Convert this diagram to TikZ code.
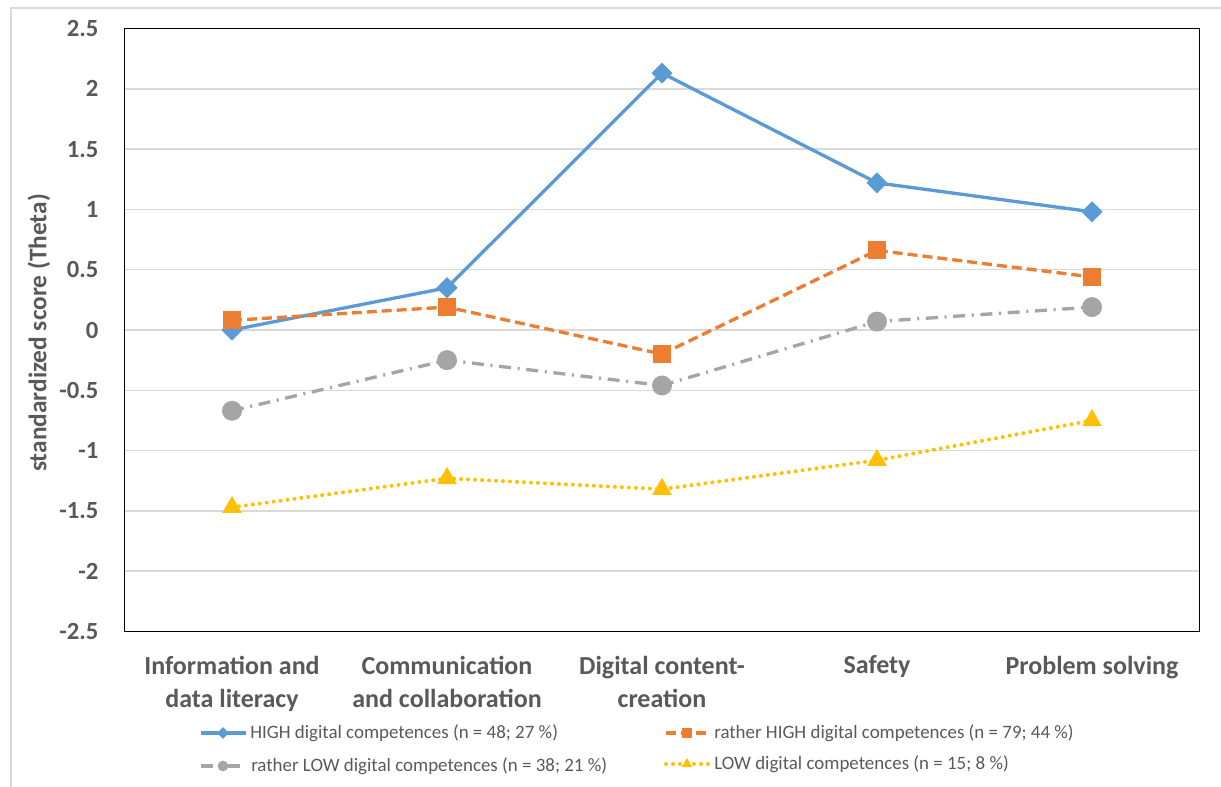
\documentclass[tikz,border=0pt]{standalone}
\usepackage{fontspec}
\setmainfont{Carlito}
\usetikzlibrary{shapes.geometric}

\definecolor{highblue}{HTML}{5B9BD5}
\definecolor{rhighorange}{HTML}{ED7D31}
\definecolor{rlowgray}{HTML}{A5A5A5}
\definecolor{lowyellow}{HTML}{FFC000}
\definecolor{labelgray}{HTML}{595959}
\definecolor{gridgray}{HTML}{D9D9D9}

\tikzset{
  ticklabel/.style = {anchor=east, inner sep=0pt, text=labelgray, font=\bfseries\fontsize{18.5}{20}\selectfont},
  catlabel/.style = {anchor=north, align=center, inner sep=0pt, text=labelgray, font=\bfseries\fontsize{19.5}{24.75}\selectfont},
  axistitle/.style = {rotate=90, inner sep=0pt, text=labelgray, font=\bfseries\fontsize{19}{21}\selectfont},
  legendlabel/.style = {anchor=west, inner sep=0pt, text=labelgray, font=\fontsize{14.2}{16}\selectfont},
  gridline/.style = {draw=gridgray, line width=1.1pt},
  highline/.style = {draw=highblue, line width=2.5pt, line join=round},
  rhighline/.style = {draw=rhighorange, line width=2.5pt, dash pattern=on 7.5pt off 3.75pt},
  rlowline/.style = {draw=rlowgray, line width=2.5pt, dash pattern=on 9pt off 5pt on 1.5pt off 5pt},
  lowline/.style = {draw=lowyellow, line width=3pt, line cap=round, dash pattern=on 0pt off 5.25pt},
  highmark/.style = {diamond, fill=highblue, inner sep=0pt, minimum size=16pt},
  rhighmark/.style = {rectangle, fill=rhighorange, inner sep=0pt, minimum size=13.5pt},
  rlowmark/.style = {circle, fill=rlowgray, inner sep=0pt, minimum size=15pt},
  lowmark/.style = {regular polygon, regular polygon sides=3, fill=lowyellow, inner sep=0pt, minimum size=17pt}
}

\begin{document}
\begin{tikzpicture}[x=0.75pt, y=-0.75pt]
      \useasboundingbox (0,0) rectangle (1221,787);
      % outer frame
      \draw[gridgray, line width=1.1pt] (11,787) -- (11,8) -- (1221,8);

      \begin{scope}[shift={(232,330)}, x=161.25pt, y=90.45pt]
      % grid
      \draw[gridline] (-0.5,2.0) -- (4.5,2.0);
      \draw[gridline] (-0.5,1.5) -- (4.5,1.5);
      \draw[gridline] (-0.5,1.0) -- (4.5,1.0);
      \draw[gridline] (-0.5,0.5) -- (4.5,0.5);
      \draw[gridline] (-0.5,0.0) -- (4.5,0.0);
      \draw[gridline] (-0.5,-0.5) -- (4.5,-0.5);
      \draw[gridline] (-0.5,-1.0) -- (4.5,-1.0);
      \draw[gridline] (-0.5,-1.5) -- (4.5,-1.5);
      \draw[gridline] (-0.5,-2.0) -- (4.5,-2.0);
      \draw[black, line width=1.2pt] (-0.5,-2.5) rectangle (4.5,2.5);

      % tick labels
      \node[ticklabel] (t25) at (-0.62,2.5) {2.5};
      \node[ticklabel] (t20) at (-0.62,2.0) {2};
      \node[ticklabel] (t15) at (-0.62,1.5) {1.5};
      \node[ticklabel] (t10) at (-0.62,1.0) {1};
      \node[ticklabel] (t05) at (-0.62,0.5) {0.5};
      \node[ticklabel] (t00) at (-0.62,0.0) {0};
      \node[ticklabel] (tm05) at (-0.62,-0.5) {-0.5};
      \node[ticklabel] (tm10) at (-0.62,-1.0) {-1};
      \node[ticklabel] (tm15) at (-0.62,-1.5) {-1.5};
      \node[ticklabel] (tm20) at (-0.62,-2.0) {-2};
      \node[ticklabel] (tm25) at (-0.62,-2.5) {-2.5};

      % category labels
      \node[catlabel] (info) at (0,-2.70) {Information and\\data literacy};
      \node[catlabel] (comm) at (1,-2.70) {Communication\\and collaboration};
      \node[catlabel] (dcc) at (2,-2.70) {Digital content-\\creation};
      \node[catlabel] (safe) at (3,-2.70) {Safety};
      \node[catlabel] (prob) at (4,-2.70) {Problem solving};

      % HIGH
      \coordinate (h1) at (0,0.00);
      \coordinate (h2) at (1,0.35);
      \coordinate (h3) at (2,2.13);
      \coordinate (h4) at (3,1.22);
      \coordinate (h5) at (4,0.98);
      \draw[highline] (h1) -- (h2) -- (h3) -- (h4) -- (h5);
      \node[highmark] (hm1) at (h1) {};
      \node[highmark] (hm2) at (h2) {};
      \node[highmark] (hm3) at (h3) {};
      \node[highmark] (hm4) at (h4) {};
      \node[highmark] (hm5) at (h5) {};

      % rather HIGH
      \coordinate (rh1) at (0,0.08);
      \coordinate (rh2) at (1,0.19);
      \coordinate (rh3) at (2,-0.20);
      \coordinate (rh4) at (3,0.66);
      \coordinate (rh5) at (4,0.44);
      \draw[rhighline] (rh1) -- (rh2) -- (rh3) -- (rh4) -- (rh5);
      \node[rhighmark] (rhm1) at (rh1) {};
      \node[rhighmark] (rhm2) at (rh2) {};
      \node[rhighmark] (rhm3) at (rh3) {};
      \node[rhighmark] (rhm4) at (rh4) {};
      \node[rhighmark] (rhm5) at (rh5) {};

      % rather LOW
      \coordinate (rl1) at (0,-0.67);
      \coordinate (rl2) at (1,-0.25);
      \coordinate (rl3) at (2,-0.46);
      \coordinate (rl4) at (3,0.07);
      \coordinate (rl5) at (4,0.19);
      \draw[rlowline] (rl1) -- (rl2) -- (rl3) -- (rl4) -- (rl5);
      \node[rlowmark] (rlm1) at (rl1) {};
      \node[rlowmark] (rlm2) at (rl2) {};
      \node[rlowmark] (rlm3) at (rl3) {};
      \node[rlowmark] (rlm4) at (rl4) {};
      \node[rlowmark] (rlm5) at (rl5) {};

      % LOW
      \coordinate (l1) at (0,-1.47);
      \coordinate (l2) at (1,-1.23);
      \coordinate (l3) at (2,-1.32);
      \coordinate (l4) at (3,-1.08);
      \coordinate (l5) at (4,-0.75);
      \draw[lowline] (l1) -- (l2) -- (l3) -- (l4) -- (l5);
      \node[lowmark] (lm1) at (l1) {};
      \node[lowmark] (lm2) at (l2) {};
      \node[lowmark] (lm3) at (l3) {};
      \node[lowmark] (lm4) at (l4) {};
      \node[lowmark] (lm5) at (l5) {};
      \end{scope}

      % axis title
      \node[axistitle] (ytitle) at (39,333) {standardized score (Theta)};

      % legend
      \coordinate (lg1a) at (201,733);
      \coordinate (lg1b) at (246,733);
      \draw[highline] (lg1a) -- (lg1b);
      \node[highmark, minimum size=9pt] (lgm1) at (223,733) {};
      \node[legendlabel] (lgt1) at (250,733) {HIGH digital competences (n = 48; 27 \%)};

      \coordinate (lg2a) at (666,733);
      \coordinate (lg2b) at (708,733);
      \draw[rhighline] (lg2a) -- (lg2b);
      \node[rhighmark, minimum size=7pt] (lgm2) at (687,733) {};
      \node[legendlabel] (lgt2) at (714,733) {rather HIGH digital competences (n = 79; 44 \%)};

      \coordinate (lg3a) at (201,766);
      \coordinate (lg3b) at (246,766);
      \draw[rlowline] (lg3a) -- (lg3b);
      \node[rlowmark, minimum size=8pt] (lgm3) at (223,766) {};
      \node[legendlabel] (lgt3) at (251,766) {rather LOW digital competences (n = 38; 21 \%)};

      \coordinate (lg4a) at (666,764);
      \coordinate (lg4b) at (708,764);
      \draw[lowline] (lg4a) -- (lg4b);
      \node[lowmark, minimum size=9pt] (lgm4) at (687,764) {};
      \node[legendlabel] (lgt4) at (714,764) {LOW digital competences (n = 15; 8 \%)};
\end{tikzpicture}
\end{document}
